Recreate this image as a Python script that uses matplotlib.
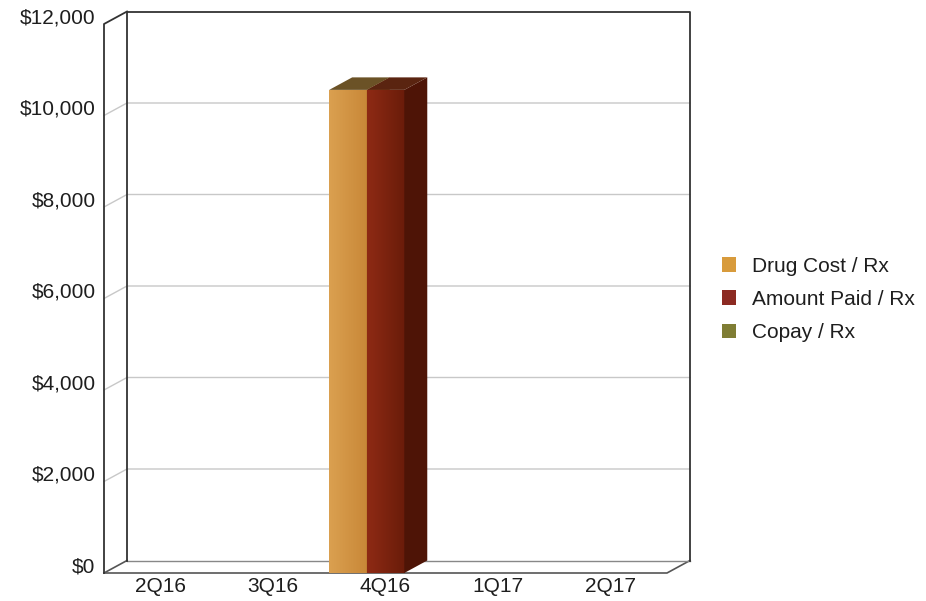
import matplotlib.pyplot as plt
import numpy as np
from matplotlib.patches import Polygon, Patch
from matplotlib.colors import LinearSegmentedColormap

plt.rcParams['font.family'] = ['Liberation Sans', 'DejaVu Sans']

# 분기별 처방 1건당 비용
quarters = ["2Q16", "3Q16", "4Q16", "1Q17", "2Q17"]
drug_cost = [0, 0, 10560, 0, 0]
amount_paid = [0, 0, 10560, 0, 0]
copay = [0, 0, 0, 0, 0]
series_names = ["Drug Cost / Rx", "Amount Paid / Rx", "Copay / Rx"]
yticks = [0, 2000, 4000, 6000, 8000, 10000, 12000]

# 앞면(왼쪽->오른쪽 그라데이션), 옆면, 윗면 색
front_colors = [("#daa050", "#c98838"), ("#8e2a14", "#6a1c0a"), ("#858236", "#6f6c28")]
side_colors = ["#a86a28", "#4e1406", "#55521c"]
top_colors = ["#6b5226", "#5a2410", "#5c5a22"]
legend_colors = ["#d89b3c", "#8c2a22", "#7f7d34"]

W, H = 926, 601
fig = plt.figure(figsize=(W / 100, H / 100), dpi=100)
# 앞쪽 평면 기준 축 (픽셀 좌표로 위치 지정)
ax = fig.add_axes([104 / W, (H - 573) / H, 563 / W, 549 / H])
ax.set_xlim(-0.5, len(quarters) - 0.5)
ax.set_ylim(0, 12000)
ax.axis("off")

DX, DY = 23, 12.5   # 깊이 방향 픽셀 이동


def pt(x, y, d, ox=0):
    # 데이터 좌표 -> 깊이 d만큼 뒤로 민 데이터 좌표
    px, py = ax.transData.transform((x, y))
    return ax.transData.inverted().transform((px + d * DX + ox, py + d * DY))


def line(points, **kw):
    xy = np.array([pt(*p) for p in points])
    ax.plot(xy[:, 0], xy[:, 1], clip_on=False, **kw)


def poly(points, **kw):
    xy = np.array([pt(*p) for p in points])
    p = Polygon(xy, closed=True, clip_on=False, **kw)
    ax.add_patch(p)
    return p


x0, x1 = -0.5, len(quarters) - 0.5
ymax = yticks[-1]

# 눈금선 (뒷벽 + 왼쪽 벽)
for v in yticks[1:-1]:
    line([(x0, v, 0), (x0, v, 1), (x1, v, 1)], color="#c8c8c8", lw=1.0, zorder=1)

# 바닥
line([(x0, 0, 0), (x1, 0, 0), (x1, 0, 1)], color="#555555", lw=1.2, zorder=2)
line([(x0, 0, 1), (x1, 0, 1)], color="#888888", lw=1.0, zorder=2)
line([(x0, 0, 0), (x0, 0, 1)], color="#555555", lw=1.2, zorder=2)

# 뒷벽 테두리와 왼쪽 벽
line([(x0, 0, 1), (x0, ymax, 1), (x1, ymax, 1), (x1, 0, 1)], color="#333333", lw=1.3, zorder=2)
line([(x0, 0, 0), (x0, ymax, 0), (x0, ymax, 1)], color="#333333", lw=1.3, zorder=2)

# 3D 막대
all_series = [drug_cost, amount_paid, copay]
n = len(all_series)
bw = 1.0 / n
z = 3
grad = np.linspace(0, 1, 64).reshape(1, -1)
for ci in range(len(quarters)):
    for si, vals in enumerate(all_series):
        v = vals[ci]
        if v <= 0:
            continue
        left = ci - 0.5 + si * bw
        right = left + bw
        bars = ax.bar(left, v, width=bw, align="edge", color=front_colors[si][0],
                      edgecolor="none", zorder=z)
        cmap = LinearSegmentedColormap.from_list("f%d" % si, front_colors[si])
        im = ax.imshow(grad, cmap=cmap, aspect="auto", extent=(left, right, 0, v),
                       zorder=z + 0.1)
        im.set_clip_path(bars[0])
        poly([(right, 0, 0), (right, 0, 1), (right, v, 1), (right, v, 0)],
             facecolor=side_colors[si], edgecolor="none", zorder=z + 0.2)
        poly([(left, v, 0), (left, v, 1), (right, v, 1), (right, v, 0)],
             facecolor=top_colors[si], edgecolor="none", zorder=z + 0.2)
        z += 1

ax.set_xlim(-0.5, len(quarters) - 0.5)
ax.set_ylim(0, 12000)

# y축 눈금 라벨
for v in yticks:
    x, y = pt(x0, v, 0.5, ox=-20)
    ax.text(x, y, f"${v:,}", ha="right", va="center", fontsize=15,
            color="#1e1e1e", clip_on=False)

# x축 라벨
for ci, q in enumerate(quarters):
    ax.text(ci, -290, q, ha="center", va="center", fontsize=15, color="#1e1e1e",
            clip_on=False)

# 범례
handles = [Patch(facecolor=c, edgecolor="none") for c in legend_colors]
fig.legend(handles, series_names, loc="upper left", bbox_to_anchor=(703 / W, 1 - 238 / H),
           frameon=False, fontsize=15, handlelength=0.7, handleheight=0.7,
           handletextpad=0.75, labelspacing=0.68, labelcolor="#1e1e1e")

fig.savefig("out.png", dpi=100)
